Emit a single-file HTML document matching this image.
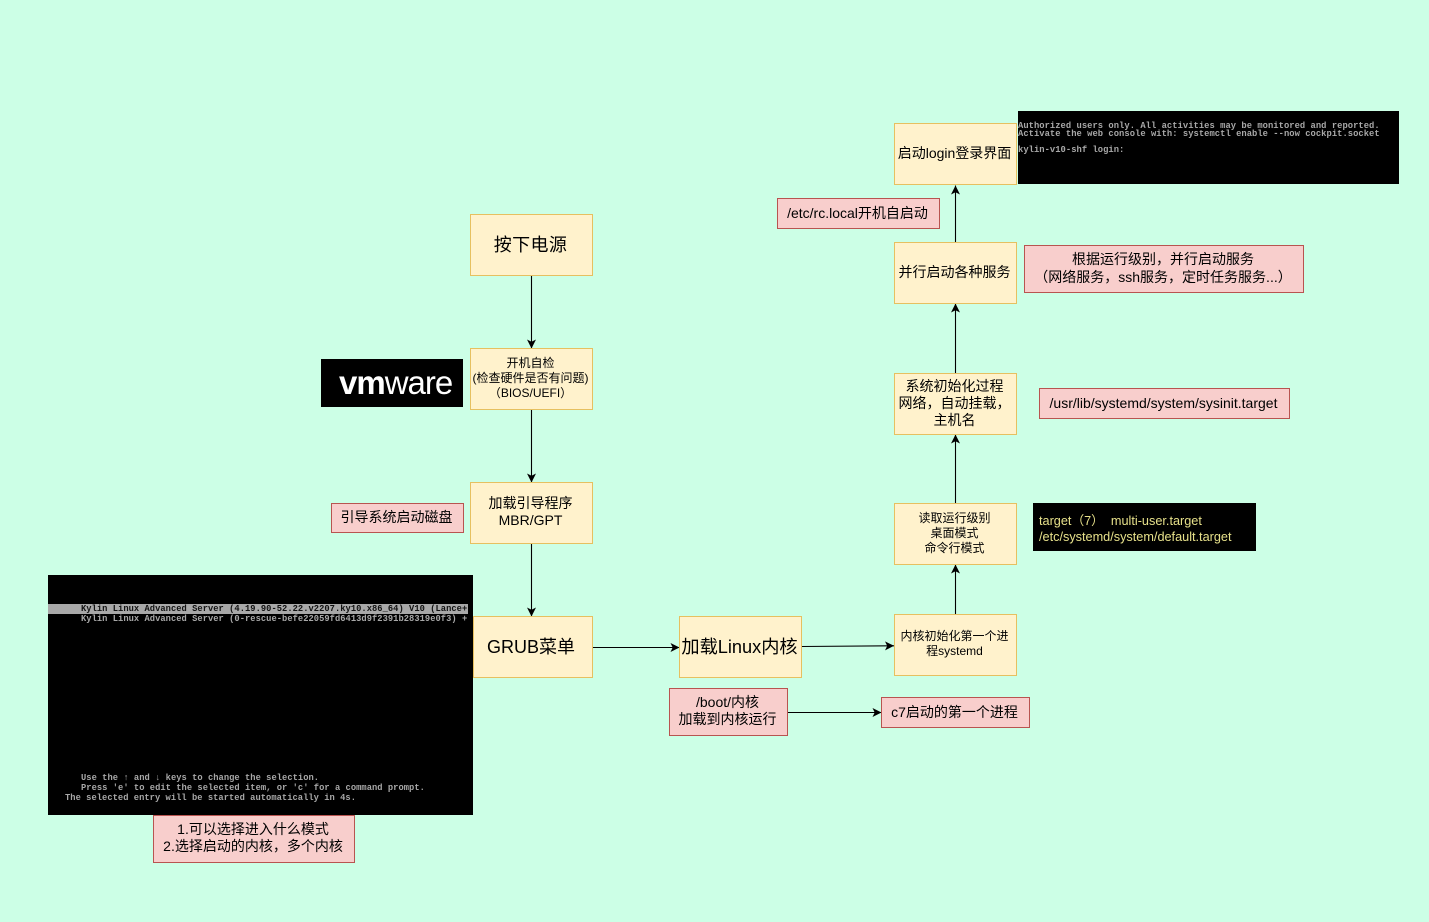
<!DOCTYPE html>
<html lang="zh"><head><meta charset="utf-8"><style>
html,body{margin:0;padding:0;width:1429px;height:922px;overflow:hidden;background:#ccffe6}
body{position:relative;font-family:"Liberation Sans","Noto Sans CJK SC",sans-serif;color:#000}
.b{position:absolute;box-sizing:border-box;display:flex;align-items:center;justify-content:center;text-align:center;white-space:nowrap;padding:0 2px 2px 0}
.y{background:#fff2cc;border:1px solid #e6c060}
.p{background:#f8cecc;border:1px solid #b85450}
.k{position:absolute;background:#000;box-sizing:border-box}
.m{position:absolute;font-family:"Liberation Mono",monospace;font-weight:bold;font-size:8.75px;letter-spacing:.04px;line-height:10px;color:#a8a8a8;white-space:pre}
.l{font-size:8.8px;line-height:8px}
svg{position:absolute;left:0;top:0}
</style></head><body>
<div class="k" style="left:48px;top:575px;width:425px;height:240px"></div>
<div style="position:absolute;left:48px;top:604px;width:420px;height:10px;background:#a8a8a8"></div>
<div class="m" style="left:81px;top:604px;color:#111">Kylin Linux Advanced Server (4.19.90-52.22.v2207.ky10.x86_64) V10 (Lance+</div>
<div class="m" style="left:81px;top:614px">Kylin Linux Advanced Server (0-rescue-befe22059fd6413d9f2391b28319e0f3) +</div>
<div class="m" style="left:81px;top:773px">Use the ↑ and ↓ keys to change the selection.</div>
<div class="m" style="left:81px;top:783px">Press 'e' to edit the selected item, or 'c' for a command prompt.</div>
<div class="m" style="left:65px;top:793px">The selected entry will be started automatically in 4s.</div>
<div class="k" style="left:1018px;top:111px;width:381px;height:73px"></div>
<div class="m l" style="left:1018px;top:122px">Authorized users only. All activities may be monitored and reported.</div>
<div class="m l" style="left:1018px;top:130px">Activate the web console with: systemctl enable --now cockpit.socket</div>
<div class="m l" style="left:1018px;top:146px">kylin-v10-shf login:</div>
<div class="k" style="left:321px;top:359px;width:142px;height:48px"></div>
<div style="position:absolute;left:339px;top:359px;height:48px;color:#fff;font-size:33px;line-height:48px;letter-spacing:-1px;white-space:nowrap"><span style="font-weight:bold">vm</span><span>ware</span></div>
<div class="k" style="left:1033px;top:503px;width:223px;height:48px;color:#e6e08a;font-size:12.700px;line-height:16px;padding:10px 0 0 6px;white-space:pre">target（7）  multi-user.target
/etc/systemd/system/default.target</div>
<svg width="1429" height="922" xmlns="http://www.w3.org/2000/svg">
<defs><marker id="a" markerWidth="10" markerHeight="10" refX="9" refY="5" orient="auto" markerUnits="userSpaceOnUse"><path d="M0 0.500L9 5L0 9.500L2.200 5Z" fill="#000"/></marker></defs>
<g stroke="#000" stroke-width="1.100" fill="none">
<path d="M531.500 275V348.500" marker-end="url(#a)"/>
<path d="M531.500 410V482.500" marker-end="url(#a)"/>
<path d="M531.500 544V616.500" marker-end="url(#a)"/>
<path d="M593 647.500H679.500" marker-end="url(#a)"/>
<path d="M802 646.500L894 645.800" marker-end="url(#a)"/>
<path d="M955.500 615V564.500" marker-end="url(#a)"/>
<path d="M955.500 503V434.500" marker-end="url(#a)"/>
<path d="M955.500 373V303.500" marker-end="url(#a)"/>
<path d="M955.500 242V185.500" marker-end="url(#a)"/>
<path d="M788 712.500H881.500" marker-end="url(#a)"/>
</g></svg>
<div class="b y" style="left:470px;top:214px;width:123px;height:62px;font-size:18px;letter-spacing:.4px">按下电源</div>
<div class="b y" style="left:470px;top:348px;width:123px;height:62px;font-size:12px;line-height:15px">开机自检<br>(检查硬件是否有问题)<br>（BIOS/UEFI）</div>
<div class="b y" style="left:470px;top:482px;width:123px;height:62px;font-size:14px;line-height:17px">加载引导程序<br>MBR/GPT</div>
<div class="b y" style="left:473px;top:616px;width:120px;height:62px;font-size:18px;padding-right:4px">GRUB菜单</div>
<div class="b y" style="left:679px;top:616px;width:123px;height:62px;font-size:18.200px">加载Linux内核</div>
<div class="b y" style="left:894px;top:614px;width:123px;height:62px;font-size:12px;line-height:15px;white-space:normal;padding:0 6px 2px 4px">内核初始化第一个进程systemd</div>
<div class="b y" style="left:894px;top:503px;width:123px;height:62px;font-size:12px;line-height:15px">读取运行级别<br>桌面模式<br>命令行模式</div>
<div class="b y" style="left:894px;top:373px;width:123px;height:62px;font-size:14px;line-height:17px">系统初始化过程<br>网络，自动挂载，<br>主机名</div>
<div class="b y" style="left:894px;top:242px;width:123px;height:62px;font-size:14px;padding-bottom:3px">并行启动各种服务</div>
<div class="b y" style="left:894px;top:123px;width:123px;height:62px;font-size:14px">启动login登录界面</div>
<div class="b p" style="left:777px;top:198px;width:163px;height:31px;font-size:14px">/etc/rc.local开机自启动</div>
<div class="b p" style="left:1024px;top:245px;width:280px;height:48px;font-size:14px;line-height:18px">根据运行级别，并行启动服务<br>（网络服务，ssh服务，定时任务服务...）</div>
<div class="b p" style="left:1039px;top:388px;width:251px;height:31px;font-size:14px">/usr/lib/systemd/system/sysinit.target</div>
<div class="b p" style="left:331px;top:503px;width:133px;height:30px;font-size:14px">引导系统启动磁盘</div>
<div class="b p" style="left:153px;top:815px;width:202px;height:48px;font-size:14px;line-height:17px">1.可以选择进入什么模式<br>2.选择启动的内核，多个内核</div>
<div class="b p" style="left:669px;top:688px;width:119px;height:48px;font-size:14px;line-height:17px">/boot/内核<br>加载到内核运行</div>
<div class="b p" style="left:881px;top:697px;width:149px;height:31px;font-size:14px">c7启动的第一个进程</div>
</body></html>
